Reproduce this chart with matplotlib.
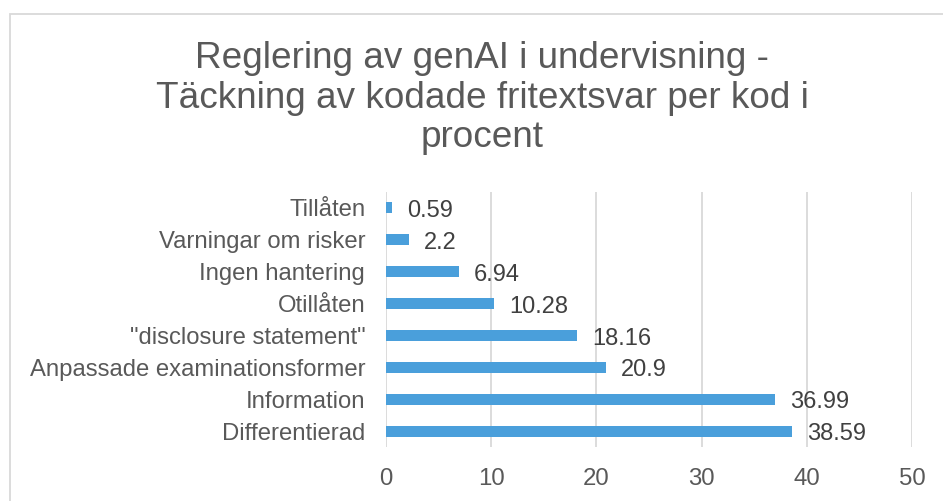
import matplotlib.pyplot as plt
from matplotlib.patches import Rectangle

plt.rcParams['font.family'] = ['Liberation Sans', 'DejaVu Sans']

# data, top to bottom as shown in the chart
categories = ["Tillåten", "Varningar om risker", "Ingen hantering", "Otillåten",
              "\"disclosure statement\"", "Anpassade examinationsformer",
              "Information", "Differentierad"]
values = [0.59, 2.2, 6.94, 10.28, 18.16, 20.9, 36.99, 38.59]
value_labels = ["0.59", "2.2", "6.94", "10.28", "18.16", "20.9", "36.99", "38.59"]
x_ticks = [0, 10, 20, 30, 40, 50]

title = "Reglering av genAI i undervisning -\nTäckning av kodade fritextsvar per kod i\nprocent"

bar_color = "#4A9FDB"
grid_color = "#D9D9D9"
text_color = "#595959"

fig = plt.figure(figsize=(9.43, 5.01), dpi=100)

# chart frame (runs off the right and bottom of the picture)
fig.patches.append(Rectangle((10 / 943, -0.1), 1.2, 1 - 14 / 501 + 0.1,
                             transform=fig.transFigure, fill=False,
                             edgecolor=grid_color, linewidth=1.3))

ax = fig.add_axes([386 / 943, 1 - 447 / 501, (912 - 386) / 943, (447 - 192) / 501])

pos = list(range(len(categories)))
ax.barh(pos, values, height=0.345, color=bar_color, zorder=3)
for p, v, lab in zip(pos, values, value_labels):
    ax.text(v + 1.4, p + 0.1, lab, va="center", ha="left", fontsize=17, color="#404040")

ax.set_xlim(0, 50)
ax.set_ylim(len(categories) - 0.5, -0.5)
ax.set_xticks(x_ticks)
ax.set_yticks(pos)
ax.set_yticklabels(categories)
ax.tick_params(axis="x", length=0, pad=15, labelsize=17.3, labelcolor=text_color)
ax.tick_params(axis="y", length=0, pad=15, labelsize=17.2, labelcolor=text_color)
ax.grid(axis="x", color=grid_color, linewidth=1.3, zorder=0)
for s in ax.spines.values():
    s.set_visible(False)

fig.text(482 / 943, 1 - 98 / 501, title, ha="center", va="center",
         fontsize=26.6, color=text_color, linespacing=1.16)

fig.savefig("out.png", dpi=100)
